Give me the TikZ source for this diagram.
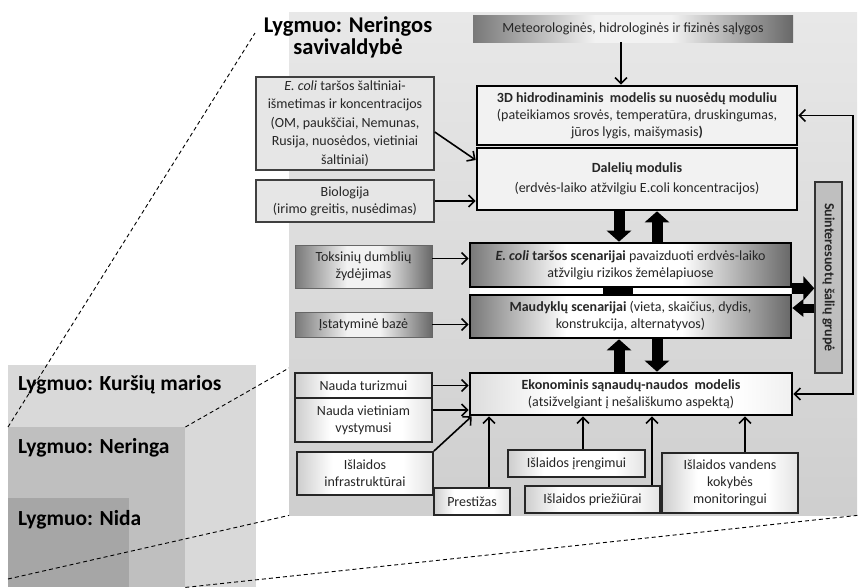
\documentclass[tikz,border=0pt]{standalone}
\usepackage{fontspec}
\setmainfont{Carlito}
\usetikzlibrary{arrows.meta,calc}
\definecolor{sqA}{HTML}{D9D9D9}
\definecolor{sqB}{HTML}{BFBFBF}
\definecolor{sqC}{HTML}{A6A6A6}
\definecolor{gdark}{HTML}{787878}
\definecolor{gdarker}{HTML}{686868}
\definecolor{glight}{HTML}{F2F2F2}
\definecolor{srcfill}{HTML}{E6E6E6}
\definecolor{bordgray}{HTML}{404040}
\definecolor{bevL}{HTML}{CDCDCD}
\definecolor{bevR}{HTML}{E2E2E2}
\definecolor{ekoL}{HTML}{DCDCDC}
\definecolor{ekoR}{HTML}{F0F0F0}
\pgfdeclarehorizontalshading{lrgrad}{100bp}{color(0bp)=(gdark); color(25bp)=(gdark); color(44bp)=(glight); color(56bp)=(glight); color(75bp)=(gdarker); color(100bp)=(gdarker)}
\pgfdeclarehorizontalshading{scengrad}{100bp}{color(0bp)=(gdark); color(25bp)=(gdark); color(40bp)=(white); color(58bp)=(white); color(75bp)=(gdarker); color(100bp)=(gdarker)}
\pgfdeclarehorizontalshading{bevel}{100bp}{color(0bp)=(bevL); color(25bp)=(bevL); color(38bp)=(white); color(64bp)=(white); color(75bp)=(bevR); color(100bp)=(bevR)}
\pgfdeclarehorizontalshading{ekograd}{100bp}{color(0bp)=(ekoL); color(25bp)=(ekoL); color(38bp)=(white); color(66bp)=(white); color(75bp)=(ekoR); color(100bp)=(ekoR)}
\begin{document}
\begin{tikzpicture}[x=1pt,y=-1pt,
  every node/.style={font=\fontsize{14}{17}\selectfont, align=center, inner sep=1pt, text=black!85},
  sq/.style={draw=none, inner sep=0pt},
  lvl/.style={font=\fontsize{21.5}{22}\selectfont\bfseries, text=black, anchor=west},
  dsh/.style={dash pattern=on 4pt off 3pt, line width=0.9pt},
  srcbox/.style={draw=bordgray, line width=1.5pt, fill=srcfill},
  gradbox/.style={draw=black!60, line width=0.6pt, shade, shading=lrgrad, shading angle=0},
  mainbox/.style={draw=black, line width=2.6pt, fill=glight},
  scenbox/.style={draw=black, line width=2.6pt, shade, shading=scengrad, shading angle=0},
  ekobox/.style={draw=black, line width=2.6pt, shade, shading=ekograd, shading angle=0},
  smallbox/.style={draw=black!85, line width=1.8pt, shade, shading=bevel, shading angle=0},
  arr/.style={line width=1.6pt, -{Straight Barb[length=6pt,width=12pt]}},
  blk/.style={line width=11pt, -{Triangle[length=11pt,width=24pt]}},
  blks/.style={line width=9pt, -{Triangle[length=11pt,width=17pt]}}
]
\useasboundingbox (0,0) rectangle (860,587);

% left nested levels
\node[sq, fill=sqA, minimum width=248pt, minimum height=222pt, anchor=north west] (kur) at (8,365) {};
\node[sq, fill=sqB, minimum width=177pt, minimum height=160pt, anchor=north west] (ner) at (8,427) {};
\node[sq, fill=sqC, minimum width=121pt, minimum height=89pt, anchor=north west] (nida) at (8,498) {};
\node[lvl] (lkur) at (17,385) {Lygmuo: Kuršių marios};
\node[lvl] (lner) at (17,448) {Lygmuo: Neringa};
\node[lvl] (lnida) at (17,520) {Lygmuo: Nida};

% zoom lines
\coordinate (z1) at (255,33);
\coordinate (z2) at (289,368);
\coordinate (z3) at (8,579);
\draw[dsh] (ner.north west) -- (z1);
\draw[dsh] (ner.north east) -- (z2);

% panel
\node[sq, top color=black!9, bottom color=black!19, minimum width=568pt, minimum height=503pt, anchor=north west] (panel) at (289,12) {};
\draw[dsh] (z3) -- (panel.south west);
\draw[dsh] (ner.south east) -- (panel.south east);

\node[font=\fontsize{22.5}{22}\selectfont\bfseries, text=black] (title) at (348,37) {Lygmuo: Neringos\\savivaldybė};

% white strip between scenario boxes
\fill[white] (470,287) rectangle (791,295);

% boxes
\node[draw=none, shade, shading=lrgrad, shading angle=0, minimum width=320pt, minimum height=27pt] (meteo) at (633,28.5) {Meteorologinės, hidrologinės ir fizinės sąlygos};
\node[mainbox, minimum width=320pt, minimum height=59pt] (hydro) at (637,115.5) {\textbf{3D hidrodinaminis\ \ modelis su nuosėdų moduliu}\\(pateikiamos srovės, temperatūra, druskingumas,\\jūros lygis, maišymasis\textbf{)}};
\node[mainbox, minimum width=320pt, minimum height=62pt, font=\fontsize{14}{20}\selectfont] (dalel) at (637,179) {\textbf{Dalelių modulis}\\(erdvės-laiko atžvilgiu E.coli koncentracijos)};
\node[srcbox, minimum width=178pt, minimum height=93pt, font=\fontsize{14}{18.5}\selectfont] (ecsrc) at (345,123.5) {\textit{E. coli} taršos šaltiniai-\\išmetimas ir koncentracijos\\(OM, paukščiai, Nemunas,\\Rusija, nuosėdos, vietiniai\\šaltiniai)};
\node[srcbox, minimum width=178pt, minimum height=42pt] (bio) at (345,201) {Biologija\\(irimo greitis, nusėdimas)};
\node[gradbox, minimum width=137pt, minimum height=43pt] (toks) at (363.5,266.5) {Toksinių dumblių\\žydėjimas};
\node[scenbox, minimum width=321pt, minimum height=44pt] (ecscen) at (630.5,265) {\textbf{\textit{E. coli} taršos scenarijai} pavaizduoti erdvės-laiko\\atžvilgiu rizikos žemėlapiuose};
\node[scenbox, minimum width=321pt, minimum height=43pt] (maud) at (630.5,316.5) {\textbf{Maudyklų scenarijai} (vieta, skaičius, dydis,\\konstrukcija, alternatyvos)};
\node[gradbox, minimum width=137pt, minimum height=25pt] (istat) at (363.5,324.5) {Įstatyminė bazė};
\node[draw=black!80, line width=1.5pt, fill=sqB, minimum width=191pt, minimum height=27pt, rotate=-90, font=\fontsize{14}{17}\selectfont\bfseries] (group) at (828.5,277.5) {Suinteresuotų šalių grupė};
\node[ekobox, minimum width=322pt, minimum height=42pt] (eko) at (631,394) {\textbf{Ekonominis sąnaudų-naudos\ \ modelis}\\(atsižvelgiant į nešališkumo aspektą)};
\node[smallbox, minimum width=137pt, minimum height=25pt] (turiz) at (363.5,385.5) {Nauda turizmui};
\node[smallbox, minimum width=137pt, minimum height=44pt] (vietin) at (363.5,420) {Nauda vietiniam\\vystymusi};
\node[smallbox, minimum width=136pt, minimum height=43pt] (infra) at (365,473.5) {Išlaidos\\infrastruktūrai};
\node[smallbox, minimum width=76pt, minimum height=27pt] (prest) at (472,501.5) {Prestižas};
\node[smallbox, minimum width=137pt, minimum height=27pt] (iren) at (576.5,463.5) {Išlaidos įrengimui};
\node[smallbox, minimum width=135pt, minimum height=27pt] (priez) at (592.5,499.5) {Išlaidos priežiūrai};
\node[smallbox, minimum width=136pt, minimum height=60pt] (vand) at (730,483) {Išlaidos vandens\\kokybės\\monitoringui};

% helper coordinates
\coordinate (cM) at (621,0);
\coordinate (cA) at (619,0);
\coordinate (cB) at (657,0);
\coordinate (cR) at (853,0);
\coordinate (cP) at (489,0);
\coordinate (cI) at (583,0);
\coordinate (cQ) at (652,0);
\coordinate (cV) at (745,0);
\coordinate (k1) at (603,0);
\coordinate (k2) at (633,0);
\coordinate (tk) at ([yshift=8pt]toks.east);
\coordinate (vt) at ([yshift=10pt]vietin.east);
\coordinate (m8) at ([yshift=8.5pt]maud.east);

% connectors
\draw[arr] (meteo.south -| cM) -- (hydro.north -| cM);
\draw[arr] ([yshift=-8.5pt]ecsrc.east) -- ([yshift=19pt]dalel.west);
\draw[arr] (bio.east) -- (bio.east -| dalel.west);
\draw[arr] (tk) -- (tk -| ecscen.west);
\draw[arr] (istat.east) -- (istat.east -| maud.west);
\draw[arr] (turiz.east) -- (turiz.east -| eko.west);
\draw[arr] (vt) -- (vt -| eko.west);
\draw[arr] (infra.north east) -- ([xshift=3pt]eko.south west);
\draw[arr] (prest.north -| cP) -- (eko.south -| cP);
\draw[arr] (iren.north -| cI) -- (eko.south -| cI);
\draw[arr] (priez.north -| cQ) -- (eko.south -| cQ);
\draw[arr] (vand.north -| cV) -- (eko.south -| cV);
\draw[line width=1.6pt, {Straight Barb[length=6pt,width=12pt]}-{Straight Barb[length=6pt,width=12pt]}]
  (hydro.east) -- (hydro.east -| cR) -- (eko.east -| cR) -- (eko.east);

% block arrows
\draw[blk] (dalel.south -| cA) -- (ecscen.north -| cA);
\draw[blk] (ecscen.north -| cB) -- (dalel.south -| cB);
\draw[blk] (eko.north -| cA) -- (maud.south -| cA);
\draw[blk] (maud.south -| cB) -- (eko.north -| cB);
\fill (ecscen.south -| k1) rectangle (maud.north -| k2);
\draw[blk] (ecscen.south east) -- (ecscen.south east -| group.south);
\draw[blks] (m8 -| group.south) -- (m8);
\end{tikzpicture}
\end{document}
